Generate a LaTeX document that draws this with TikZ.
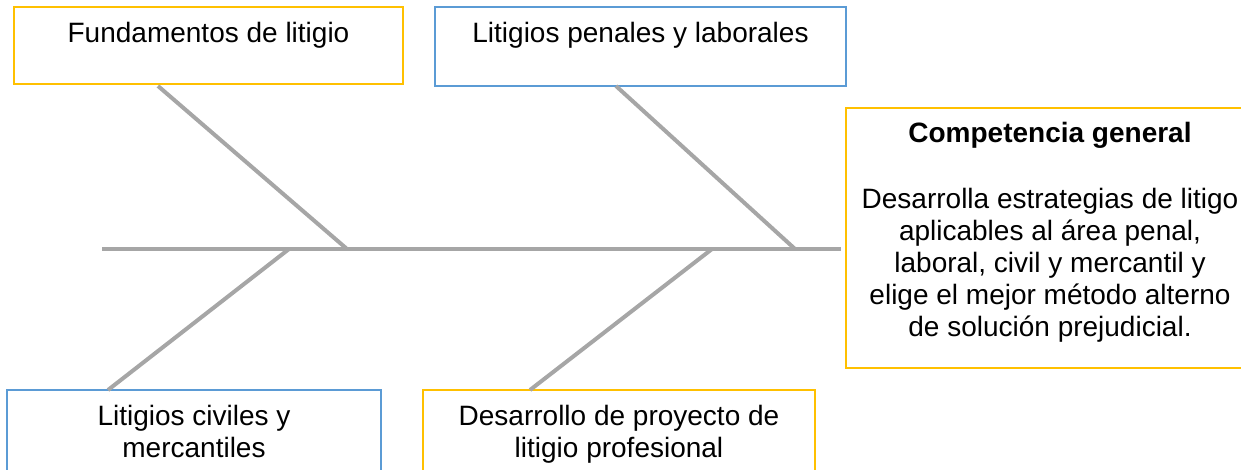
\documentclass[tikz,border=0pt]{standalone}
\usepackage{fontspec}
\setmainfont{Liberation Sans}
\definecolor{boxyellow}{HTML}{FFC000}
\definecolor{boxblue}{HTML}{5B9BD5}
\definecolor{bonegray}{HTML}{A6A6A6}
\begin{document}
\begin{tikzpicture}[x=0.5pt,y=-0.5pt,
  box/.style={draw=#1,line width=1.3pt,fill=white,rectangle,inner sep=0pt},
  txt/.style={inner sep=0pt,align=center,font=\fontsize{14}{16}\selectfont,anchor=base},
  bone/.style={draw=bonegray,line width=2pt}]
\useasboundingbox (0,0) rectangle (1241,470);
% boxes
\node[box=boxyellow,minimum width=194.5pt,minimum height=38.5pt] (tl) at (208.5,45.5) {};
\node[box=boxblue,minimum width=205.5pt,minimum height=39.5pt] (tm) at (640.5,46.5) {};
\node[box=boxyellow,minimum width=204pt,minimum height=130pt] (rb) at (1050,238) {};
\node[box=boxblue,minimum width=187pt,minimum height=50pt] (bl) at (194,440) {};
\node[box=boxyellow,minimum width=196pt,minimum height=50pt] (bm) at (619,440) {};
% texts (base anchor = baseline of the last line)
\node[txt] (tlt) at (208.5,43) {Fundamentos de litigio};
\node[txt] (tmt) at (640.5,43) {Litigios penales y laborales};
\node[txt,font=\fontsize{14}{16}\selectfont\bfseries] (rbh) at (1050,143) {Competencia general};
\node[txt] (rbt) at (1050,336) {Desarrolla estrategias de litigo\\aplicables al área penal,\\laboral, civil y mercantil y\\elige el mejor método alterno\\de solución prejudicial.};
\node[txt] (blt) at (194,457) {Litigios civiles y\\mercantiles};
\node[txt] (bmt) at (619,457) {Desarrollo de proyecto de\\litigio profesional};
% fishbone
\coordinate (tail) at (102,249);
\coordinate (head) at (841,249);
\coordinate (j1) at (347,249);
\coordinate (j2) at (795,249);
\coordinate (j3) at (289,249);
\coordinate (j4) at (712,249);
\coordinate (s1) at (158,86);
\coordinate (s2) at (616,86);
\coordinate (s3) at (108,390);
\coordinate (s4) at (530,390);
\draw[bone] (tail) -- (head);
\draw[bone] (s1) -- (j1);
\draw[bone] (s2) -- (j2);
\draw[bone] (j3) -- (s3);
\draw[bone] (j4) -- (s4);
\end{tikzpicture}
\end{document}
